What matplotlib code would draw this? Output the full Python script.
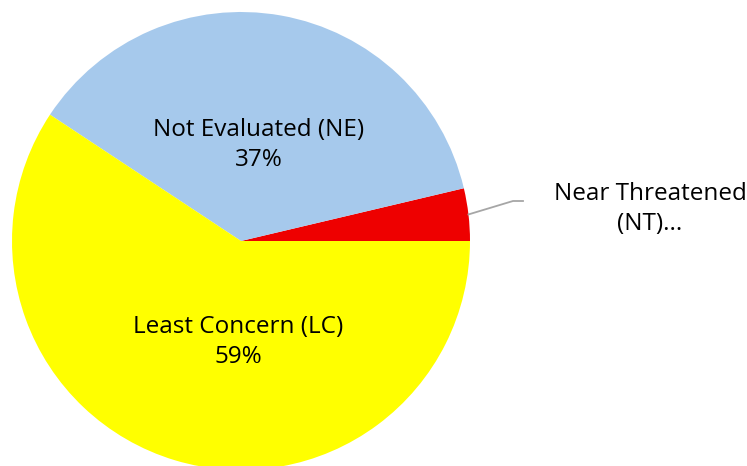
import numpy as np
import matplotlib
matplotlib.use("Agg")
import matplotlib.pyplot as plt

categories = ["Near Threatened (NT)", "Not Evaluated (NE)", "Least Concern (LC)"]
shares = [3.7, 37.0, 59.3]
colors = ["#ee0000", "#a6c9ec", "#ffff00"]

plt.rcParams["font.family"] = ["Open Sans", "DejaVu Sans"]

W, H = 747, 466
fig = plt.figure(figsize=(W / 100, H / 100), dpi=100)
ax = fig.add_axes([0, 0, 1, 1])

cx, cy, r = 241, H - 241, 229
wedges, _ = ax.pie(shares, colors=colors, startangle=0, counterclock=True,
                   center=(cx, cy), radius=r,
                   wedgeprops=dict(linewidth=0))
ax.set_xlim(0, W)
ax.set_ylim(0, H)
ax.set_aspect("equal")
ax.axis("off")

# inside labels
fs = 17.5
ax.text(cx + 18, cy + 96, f"{categories[1]}\n{shares[1]:.0f}%", ha="center",
        va="center", fontsize=fs, linespacing=1.3)
ax.text(cx - 3, cy - 101, f"{categories[2]}\n{shares[2]:.0f}%", ha="center",
        va="center", fontsize=fs, linespacing=1.3)

# outside label for the small slice
w = wedges[0]
mid = np.deg2rad((w.theta1 + w.theta2) / 2)
x0, y0 = cx + r * np.cos(mid), cy + r * np.sin(mid)
ax.plot([x0, 513, 523], [y0, H - 201, H - 201], color="#a6a6a6", lw=1.3)
ax.text(650, H - 209, "Near Threatened\n(NT)...", ha="center", va="center",
        fontsize=fs, linespacing=1.3)

fig.savefig("out.png", dpi=100)
